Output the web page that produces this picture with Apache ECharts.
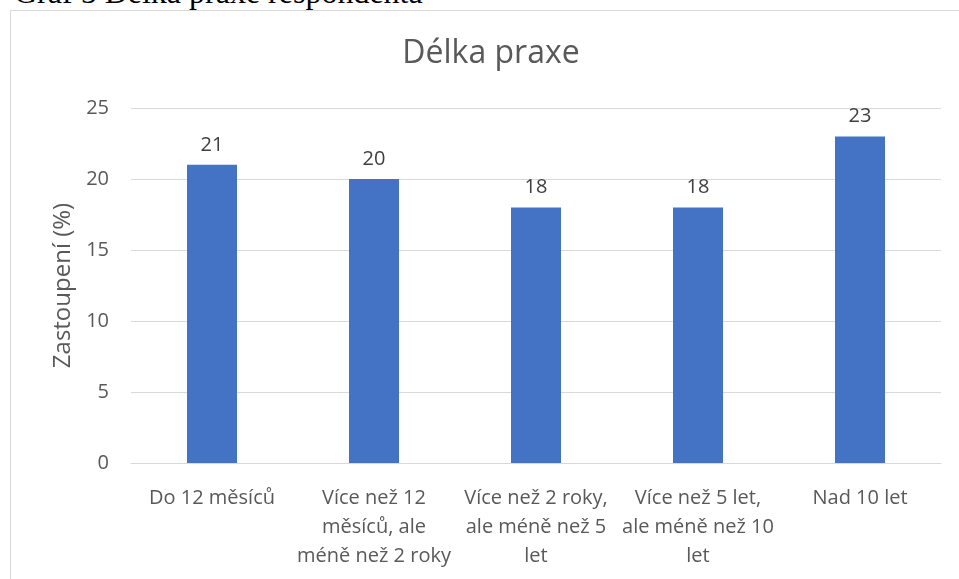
<!DOCTYPE html>
<html>
<head>
<meta charset="utf-8">
<script src="https://cdn.jsdelivr.net/npm/echarts@6/dist/echarts.min.js"></script>
<style>
  html, body { margin: 0; padding: 0; background: #fff; overflow: hidden; }
  #caption {
    position: absolute; left: 14px; top: -24px;
    font-family: "Liberation Serif", "DejaVu Serif", serif;
    font-size: 32px; line-height: 32px; color: #000; white-space: nowrap;
  }
  #frame {
    position: absolute; left: 10px; top: 10px; width: 1000px; height: 700px;
    border: 1px solid #d9d9d9; box-sizing: border-box;
  }
  #chart { position: absolute; left: 0; top: 0; width: 959px; height: 579px; }
</style>
</head>
<body>
<div id="caption">Graf 5 Délka praxe respondenta</div>
<div id="frame"></div>
<div id="chart"></div>
<script>
// kategorie délky praxe
const categories = [
    'Do 12 měsíců',
    'Více než 12\nměsíců, ale\nméně než 2 roky',
    'Více než 2 roky,\nale méně než 5\nlet',
    'Více než 5 let,\nale méně než 10\nlet',
    'Nad 10 let'
];
const values = [21, 20, 18, 18, 23];
const chartTitle = 'Délka praxe';

const font = '"Open Sans", "Noto Sans", sans-serif';
const myChart = echarts.init(document.getElementById('chart'));
const option = {
    animation: false,
    // nadpis je vystředěný na rámeček grafu, ne na okno
    graphic: [{
        type: 'text',
        x: 491,
        y: 54,
        style: {
            text: chartTitle,
            align: 'center',
            verticalAlign: 'middle',
            fontFamily: font,
            fontSize: 32,
            fill: '#595959'
        }
    }],
    grid: { left: 131, right: 18, top: 108, bottom: 116 },
    xAxis: {
        type: 'category',
        data: categories,
        axisLine: { lineStyle: { color: '#d9d9d9', width: 1 } },
        axisTick: { show: false },
        axisLabel: {
            fontFamily: font, fontSize: 20, color: '#595959',
            lineHeight: 29, margin: 21, interval: 0
        }
    },
    yAxis: {
        type: 'value',
        min: 0, max: 25, interval: 5,
        name: 'Zastoupení (%)',
        nameLocation: 'middle',
        nameGap: 56,
        nameTextStyle: { fontFamily: font, fontSize: 24, color: '#595959' },
        axisLine: { show: false },
        axisTick: { show: false },
        splitLine: { lineStyle: { color: '#d9d9d9', width: 1 } },
        axisLabel: { fontFamily: font, fontSize: 20, color: '#595959', margin: 22 }
    },
    series: [{
        type: 'bar',
        data: values,
        barWidth: 50,
        itemStyle: { color: '#4472C4' },
        label: {
            show: true, position: 'top', distance: 10,
            fontFamily: font, fontSize: 20, color: '#404040'
        }
    }]
};
myChart.setOption(option);
</script>
</body>
</html>
